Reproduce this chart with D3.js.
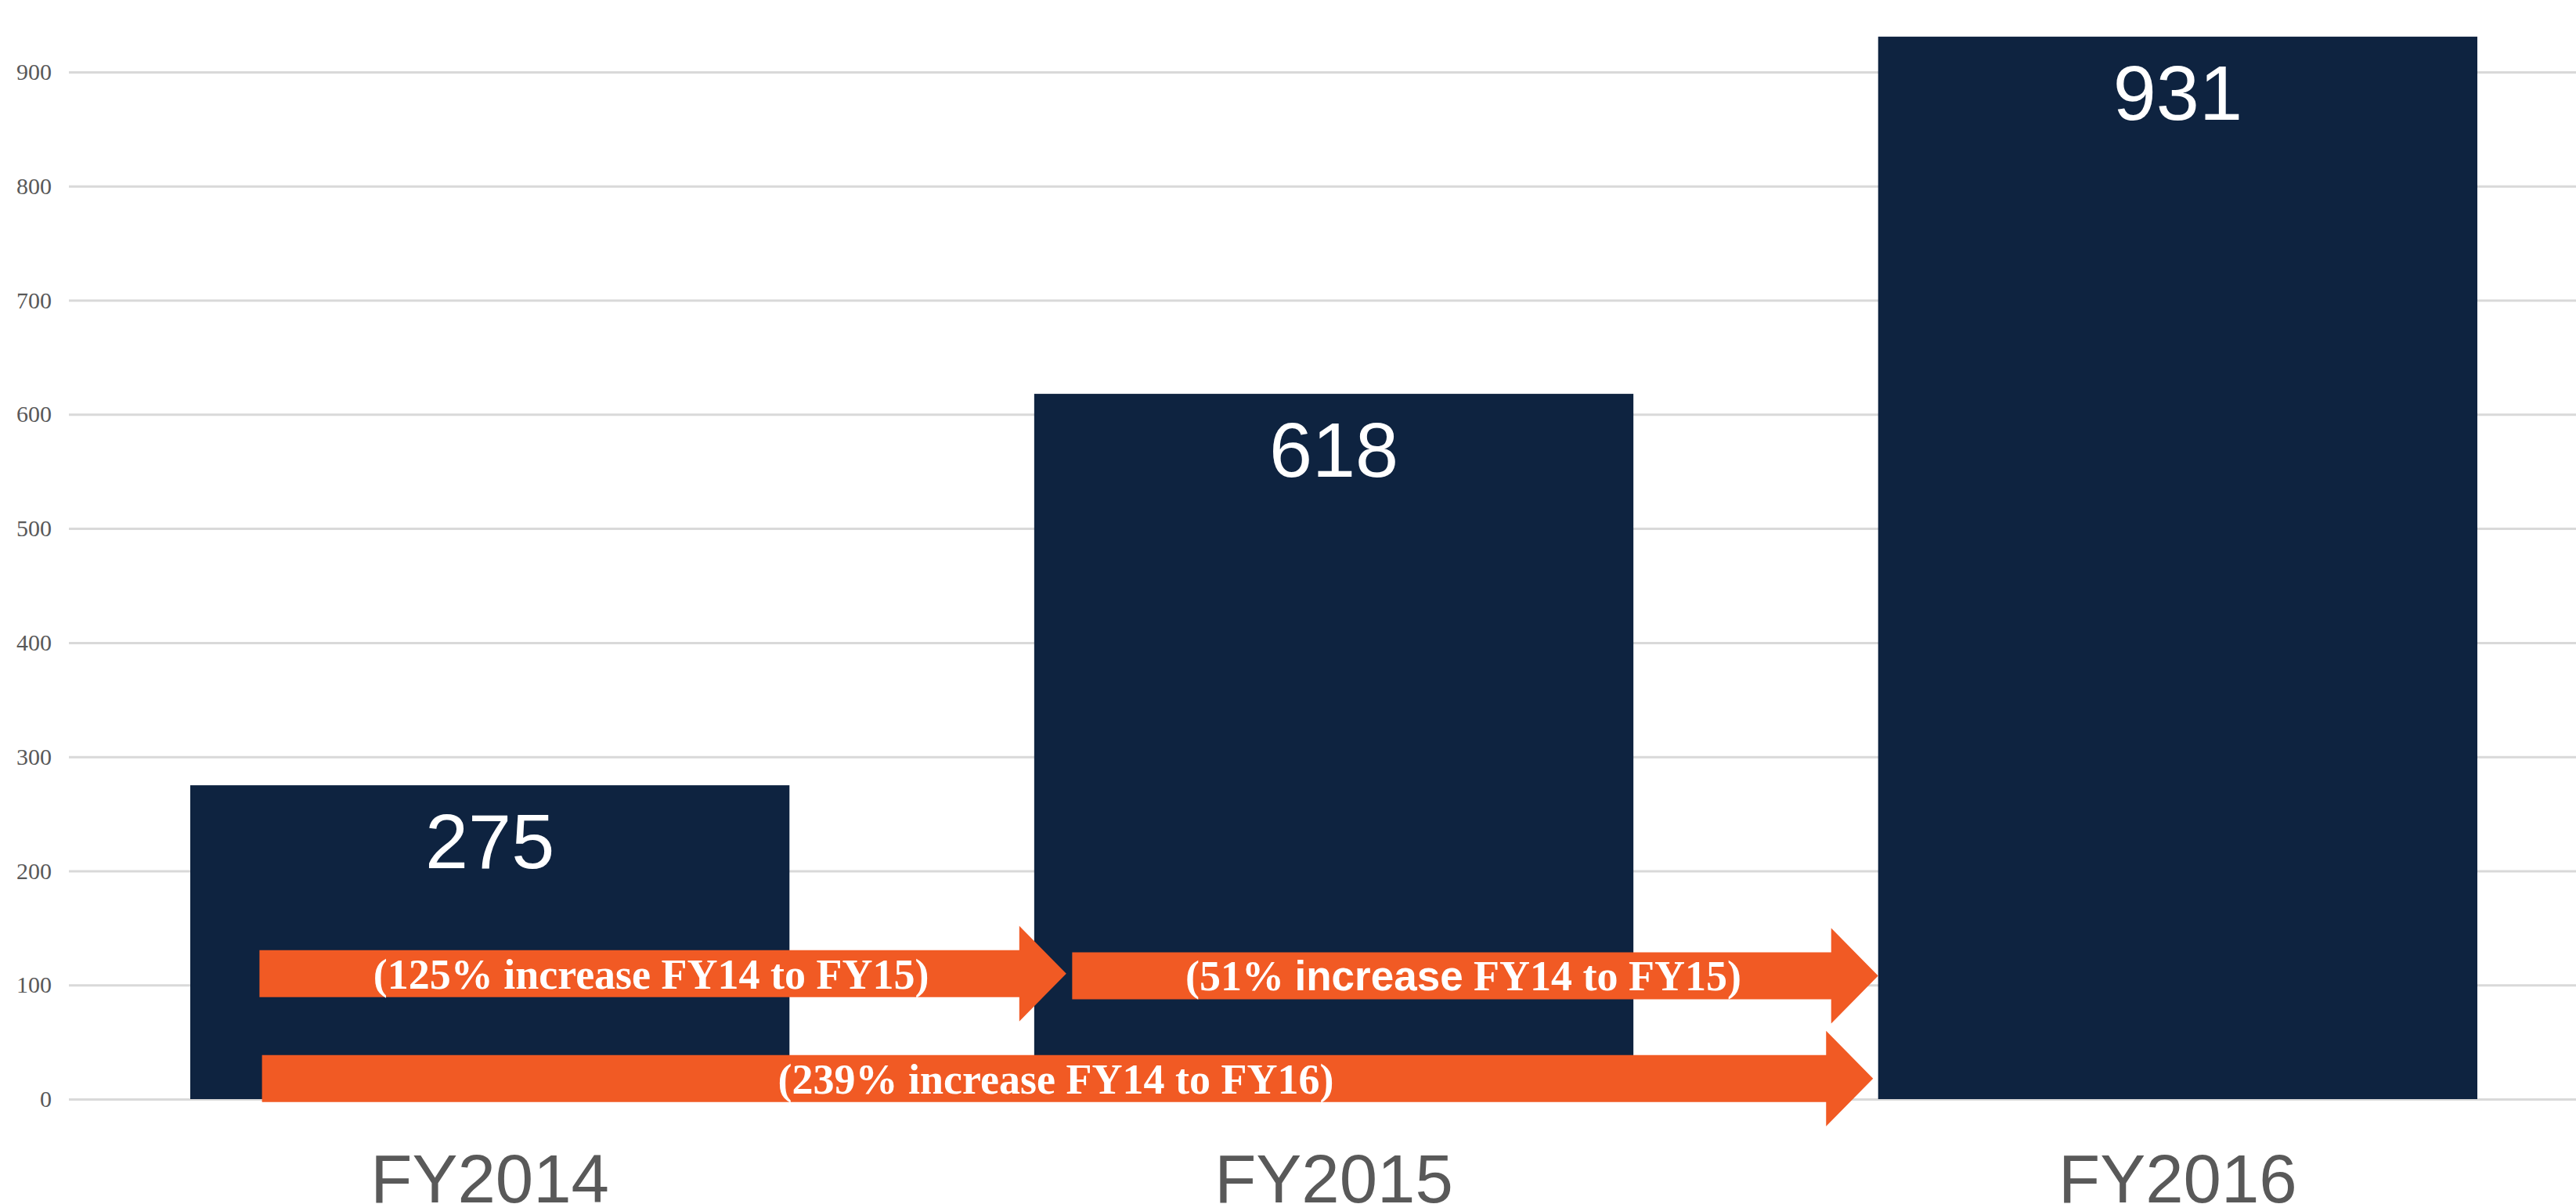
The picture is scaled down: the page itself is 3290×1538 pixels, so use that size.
<!DOCTYPE html>
<html lang="en">

<head>
    <meta charset="utf-8">
    <script src="https://cdnjs.cloudflare.com/ajax/libs/d3/7.8.5/d3.min.js"></script>
    <style>
        body {
            margin: 0;
            background: #fff;
        }
        svg {
            display: block;
        }
    </style>
</head>

<body>
    <svg id="chart"></svg>

<script>
    // chart data
    const categories = ['FY2014', 'FY2015', 'FY2016']
    const values = [275, 618, 931]
    const yTicks = [0, 100, 200, 300, 400, 500, 600, 700, 800, 900]

    // growth arrows: start / tip in category-index units, level in value units
    const arrowLabels = [
        ['(125% increase FY14 to FY15)'],
        ['(51% ', 'increase', ' FY14 to FY15)'],
        ['(239% increase FY14 to FY16)']
    ]
    const arrowFrom = [-0.273, 0.690, -0.270]
    const arrowTo = [0.683, 1.645, 1.639]
    const arrowLevel = [110, 108, 18]

    const w = 3290,
        h = 1538
    const navy = '#0e2340',
        orange = '#f15a24',
        grey = '#595959'

    const svg = d3.select('#chart')
        .attr('width', w)
        .attr('height', h)

    const xScale = d3.scaleBand()
        .domain(categories)
        .range([243, 3164])
        .paddingInner(0.29)
        .paddingOuter(0)

    const yScale = d3.scaleLinear()
        .domain([0, 900])
        .range([1404, 92])

    // index -> band centre, used for the arrows
    const idx = d3.scaleLinear()
        .domain([0, categories.length - 1])
        .range([xScale(categories[0]) + xScale.bandwidth() / 2,
            xScale(categories[categories.length - 1]) + xScale.bandwidth() / 2])

    // gridlines + y labels
    const yAxis = d3.axisLeft(yScale)
        .tickValues(yTicks)
        .tickSize(-(w - 88))
        .tickPadding(22)
    const gy = svg.append('g')
        .attr('transform', 'translate(88,0)')
        .call(yAxis)
    gy.select('.domain').remove()
    gy.selectAll('.tick line')
        .attr('stroke', '#d9d9d9')
        .attr('stroke-width', 3)
    gy.selectAll('.tick text')
        .attr('fill', grey)
        .attr('font-family', '"Liberation Serif", "Times New Roman", serif')
        .attr('font-size', 30)

    // bars
    svg.selectAll('rect.bar')
        .data(values)
        .enter()
        .append('rect')
        .attr('class', 'bar')
        .attr('x', (d, i) => xScale(categories[i]))
        .attr('y', (d) => yScale(d))
        .attr('width', xScale.bandwidth())
        .attr('height', (d) => yScale(0) - yScale(d))
        .attr('fill', navy)

    // value labels inside bars
    svg.selectAll('text.val')
        .data(values)
        .enter()
        .append('text')
        .attr('class', 'val')
        .attr('x', (d, i) => xScale(categories[i]) + xScale.bandwidth() / 2)
        .attr('y', (d) => yScale(d) + 106)
        .attr('text-anchor', 'middle')
        .attr('fill', '#fff')
        .attr('font-family', '"Liberation Sans", Arial, sans-serif')
        .attr('font-size', 99)
        .text((d) => d)

    // x labels
    const xAxis = d3.axisBottom(xScale).tickSize(0).tickPadding(0)
    const gx = svg.append('g')
        .attr('transform', 'translate(0,1536)')
        .call(xAxis)
    gx.select('.domain').remove()
    gx.selectAll('.tick text')
        .attr('dy', 0)
        .attr('fill', grey)
        .attr('font-family', '"Liberation Sans", Arial, sans-serif')
        .attr('font-size', 87)

    // arrows
    const shaft = 30,
        head = 61,
        headLen = 60
    arrowLabels.forEach((parts, i) => {
        const x0 = idx(arrowFrom[i]),
            x1 = idx(arrowTo[i]),
            yc = yScale(arrowLevel[i])
        const xb = x1 - headLen
        const pts = [
            [x0, yc - shaft], [xb, yc - shaft], [xb, yc - head], [x1, yc],
            [xb, yc + head], [xb, yc + shaft], [x0, yc + shaft]
        ]
        svg.append('path')
            .attr('d', d3.line()(pts) + 'Z')
            .attr('fill', orange)

        const t = svg.append('text')
            .attr('x', (x0 + xb) / 2 + 15)
            .attr('y', yc)
            .attr('dy', '0.35em')
            .attr('text-anchor', 'middle')
            .attr('fill', '#fff')
            .attr('font-weight', 'bold')
            .attr('font-size', 54)
            .attr('font-family', '"Liberation Serif", "Times New Roman", serif')
            .attr('xml:space', 'preserve')
        parts.forEach((p) => {
            const s = t.append('tspan').text(p)
            if (p === 'increase' && parts.length > 1) {
                s.attr('font-family', '"Liberation Sans", Arial, sans-serif')
                    .attr('font-size', 53)
            }
        })
    })
</script>
</body>

</html>
